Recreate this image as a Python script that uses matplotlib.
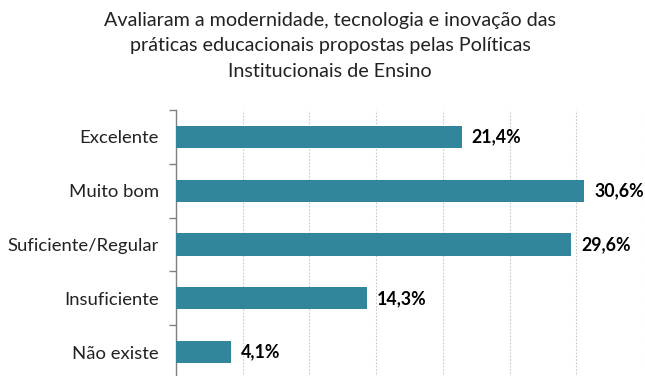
import numpy as np
import matplotlib.pyplot as plt
from matplotlib.ticker import MultipleLocator, FixedLocator

plt.rcParams['font.family'] = ['Lato', 'DejaVu Sans']

categorias = ['Excelente', 'Muito bom', 'Suficiente/Regular', 'Insuficiente', 'Não existe']
percentuais = [21.4, 30.6, 29.6, 14.3, 4.1]
titulo = ('Avaliaram a modernidade, tecnologia e inovação das\n'
          'práticas educacionais propostas pelas Políticas\n'
          'Institucionais de Ensino')

cor_barra = '#31869B'

fig = plt.figure(figsize=(6.45, 3.76), dpi=100)
ax = fig.add_axes([0.2729, -0.008, 0.724, 0.7154])

y = np.arange(len(categorias))
ax.barh(y, percentuais, height=0.41, color=cor_barra, zorder=3)

for yi, v in zip(y, percentuais):
    ax.text(v + 0.75, yi, f'{v:.1f}%'.replace('.', ','), va='center', ha='left',
            fontsize=12.8, fontweight='bold', color='black')

ax.set_xlim(0, 35)
ax.set_ylim(len(categorias) - 0.5, -0.5)
ax.xaxis.set_major_locator(MultipleLocator(5))
ax.set_xticklabels([])
ax.tick_params(axis='x', length=0)
ax.grid(axis='x', color='#c8c8c8', linestyle=(0, (1.5, 1.5)), linewidth=0.8, zorder=0)

ax.set_yticks(y)
ax.set_yticklabels(categorias, fontsize=13.3, color='#222222')
ax.tick_params(axis='y', which='major', length=0, pad=12.5)
ax.yaxis.set_minor_locator(FixedLocator(np.arange(-0.5, len(categorias), 1)))
ax.tick_params(axis='y', which='minor', length=5, color='#808080', width=1)

for lado in ['top', 'right', 'bottom']:
    ax.spines[lado].set_visible(False)
ax.spines['left'].set_color('#808080')
ax.spines['left'].set_linewidth(1)

fig.text(0.512, 0.968, titulo, ha='center', va='top', fontsize=14.2,
         linespacing=1.6, color='#222222')

fig.savefig('out.png', dpi=100)
